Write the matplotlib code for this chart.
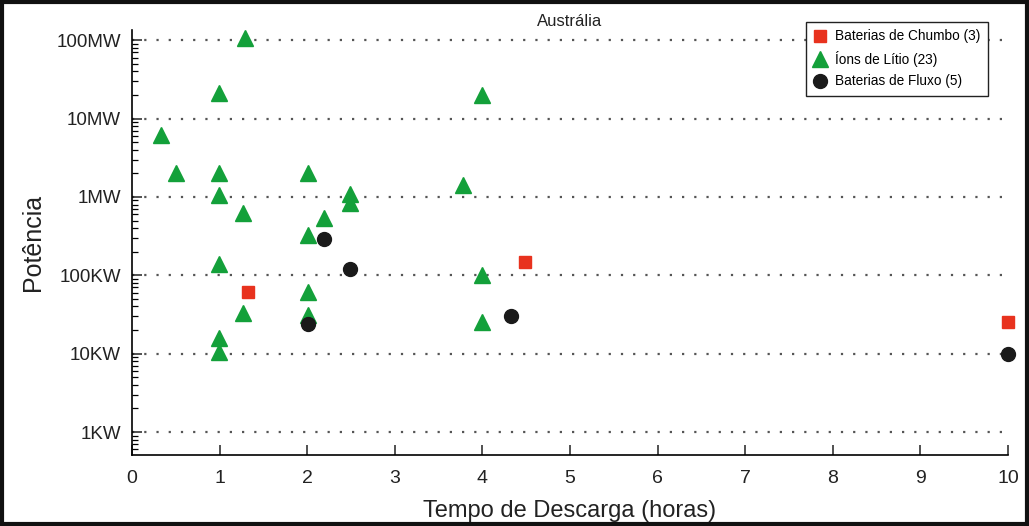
import matplotlib
matplotlib.use("Agg")
import matplotlib.pyplot as plt
from matplotlib.patches import Rectangle
from matplotlib.ticker import LogLocator, NullFormatter

plt.rcParams['font.family'] = ['Liberation Sans', 'DejaVu Sans']

# Data (discharge time in hours, power in W)
lead_x = [1.32, 4.49, 10.0]
lead_y = [6.1e4, 1.48e5, 2.5e4]

li_x = [1.29, 0.99, 0.33, 0.50, 0.99, 2.01, 0.99, 2.49, 2.49, 3.78, 1.27,
        2.19, 2.01, 4.0, 0.99, 4.0, 1.27, 2.01, 2.01, 4.0, 0.99, 0.99]
li_y = [1.07e8, 2.1e7, 6.2e6, 2.0e6, 2.0e6, 2.0e6, 1.05e6, 1.1e6, 8.3e5, 1.4e6, 6.2e5,
        5.4e5, 3.3e5, 2.0e7, 1.4e5, 1.0e5, 3.3e4, 6.2e4, 3.1e4, 2.5e4, 1.6e4, 1.05e4]

flow_x = [2.19, 2.49, 2.01, 4.33, 10.0]
flow_y = [2.9e5, 1.2e5, 2.4e4, 3.0e4, 1.0e4]

labels = ['Baterias de Chumbo (3)', 'Íons de Lítio (23)', 'Baterias de Fluxo (5)']
ytick_vals = [1e3, 1e4, 1e5, 1e6, 1e7, 1e8]
ytick_labels = ['1KW', '10KW', '100KW', '1MW', '10MW', '100MW']
xtick_vals = list(range(0, 11))

fig = plt.figure(figsize=(10.29, 5.26), dpi=100)
ax = fig.add_axes([0.1283, 0.135, 0.9796 - 0.1283, 0.943 - 0.135])

ax.set_yscale('log')
ax.set_xlim(0, 10)
ax.set_ylim(10**2.707, 10**8.13)

for yv in ytick_vals:
    ax.plot([0, 10], [yv, yv], color='#555555', linestyle=(0, (1, 4.5)),
            linewidth=1.6, zorder=1)

ax.plot(lead_x, lead_y, linestyle='none', marker='s', markersize=9,
        color='#e8321e', markeredgecolor='#e8321e', label=labels[0], clip_on=False, zorder=3)
ax.plot(li_x, li_y, linestyle='none', marker='^', markersize=11.5,
        color='#13a03a', markeredgecolor='#13a03a', label=labels[1], clip_on=False, zorder=3)
ax.plot(flow_x, flow_y, linestyle='none', marker='o', markersize=10,
        color='#1a1a1a', markeredgecolor='#1a1a1a', label=labels[2], clip_on=False, zorder=4)

ax.spines['top'].set_visible(False)
ax.spines['right'].set_visible(False)
ax.spines['left'].set_linewidth(1.2)
ax.spines['bottom'].set_linewidth(1.2)

ax.set_yticks(ytick_vals)
ax.set_yticklabels(ytick_labels)
ax.yaxis.set_minor_locator(LogLocator(base=10, subs=range(2, 10), numticks=20))
ax.yaxis.set_minor_formatter(NullFormatter())
ax.set_xticks(xtick_vals)
ax.set_xticklabels([str(v) for v in xtick_vals])

ax.tick_params(axis='y', which='major', direction='in', length=7, width=1.1,
               labelsize=13.5, pad=8, colors='#222222')
ax.tick_params(axis='y', which='minor', direction='in', length=4, width=0.9)
ax.tick_params(axis='x', which='major', direction='in', length=7, width=1.1,
               labelsize=14, pad=11, colors='#222222')

ax.set_xlabel('Tempo de Descarga (horas)', fontsize=17, labelpad=9, color='#222222')
ax.set_ylabel('Potência', fontsize=18, labelpad=8, color='#222222')
fig.text(0.5537, 1 - 22 / 526, 'Austrália', ha='center', va='center',
         fontsize=12, color='#222222')

leg = ax.legend(loc='upper right', bbox_to_anchor=(0.960, 1 - 22 / 526),
                bbox_transform=fig.transFigure, borderaxespad=0, fontsize=9.8,
                frameon=True, fancybox=False, edgecolor='#222222', framealpha=1,
                handlelength=1.0, handletextpad=0.6, labelspacing=0.55,
                borderpad=0.55, markerscale=1.0)
leg.get_frame().set_linewidth(1.0)

fig.patches.append(Rectangle((0.0015, 0.003), 0.997, 0.994, transform=fig.transFigure,
                             fill=False, edgecolor='#111111', linewidth=3))

fig.savefig('out.png', dpi=100)
